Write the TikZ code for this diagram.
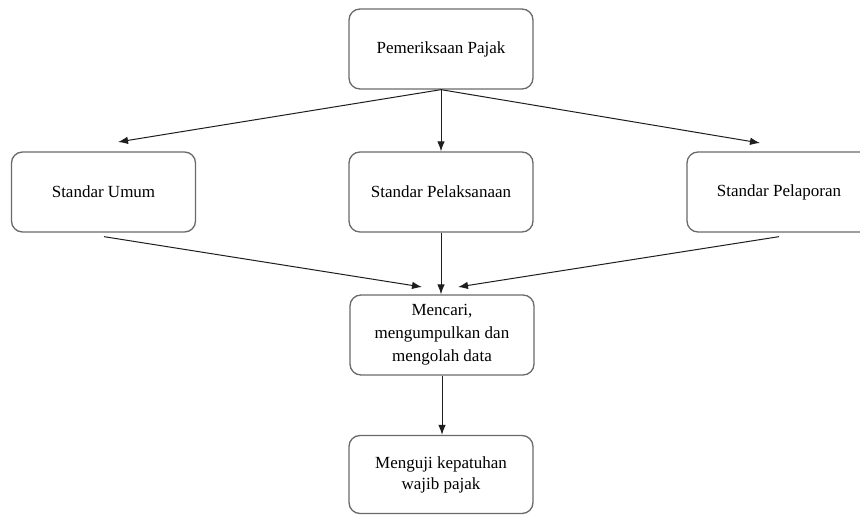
\documentclass[tikz,border=0pt]{standalone}
\usepackage{fontspec}
\setmainfont{Liberation Serif}
\usetikzlibrary{arrows.meta,calc}
\definecolor{boxline}{HTML}{6A6A6A}
\definecolor{arrline}{HTML}{1E1E1E}
\tikzset{
  box/.style={draw=boxline, line width=1.3pt, rounded corners=11pt, fill=white,
    minimum width=184pt, minimum height=80pt, align=center, inner sep=2pt,
    font=\fontsize{17}{23}\selectfont, text=black},
  arr/.style={draw=arrline, line width=1pt, -{Latex[length=10pt,width=7.5pt]}},
}
\begin{document}
\begin{tikzpicture}[x=1pt,y=-1pt]
\useasboundingbox (0,0) rectangle (860,516);
\fill[white] (0,0) rectangle (860,516);
\clip (0,0) rectangle (860,516);
\node[box] (top) at (441,49) {Pemeriksaan Pajak};
\node[box] (umum) at (103.5,192) {Standar Umum};
\node[box] (laks) at (441,192) {Standar Pelaksanaan};
\node[box] (lapor) at (779,192) {Standar Pelaporan};
\node[box] (cari) at (442,335) {Mencari,\\mengumpulkan dan\\mengolah data};
\node[box, minimum height=78pt, font=\fontsize{17}{21}\selectfont] (uji) at (441,474.5) {Menguji kepatuhan\\wajib pajak};
\coordinate (tl) at (118,142);
\coordinate (tr) at (760,143);
\coordinate (bl) at ($(umum.south)+(0.5,4)$);
\coordinate (br) at ($(lapor.south)+(0,4)$);
\coordinate (cl) at (422,287);
\coordinate (cr) at (458,287);
\draw[arr] (top.south) -- (tl);
\draw[arr] (top.south) -- (laks.north);
\draw[arr] (top.south) -- (tr);
\draw[arr] (bl) -- (cl);
\draw[arr] (laks.south) -- (laks.south |- cari.north);
\draw[arr] (br) -- (cr);
\draw[arr] (cari.south) -- (cari.south |- uji.north);
\end{tikzpicture}
\end{document}
